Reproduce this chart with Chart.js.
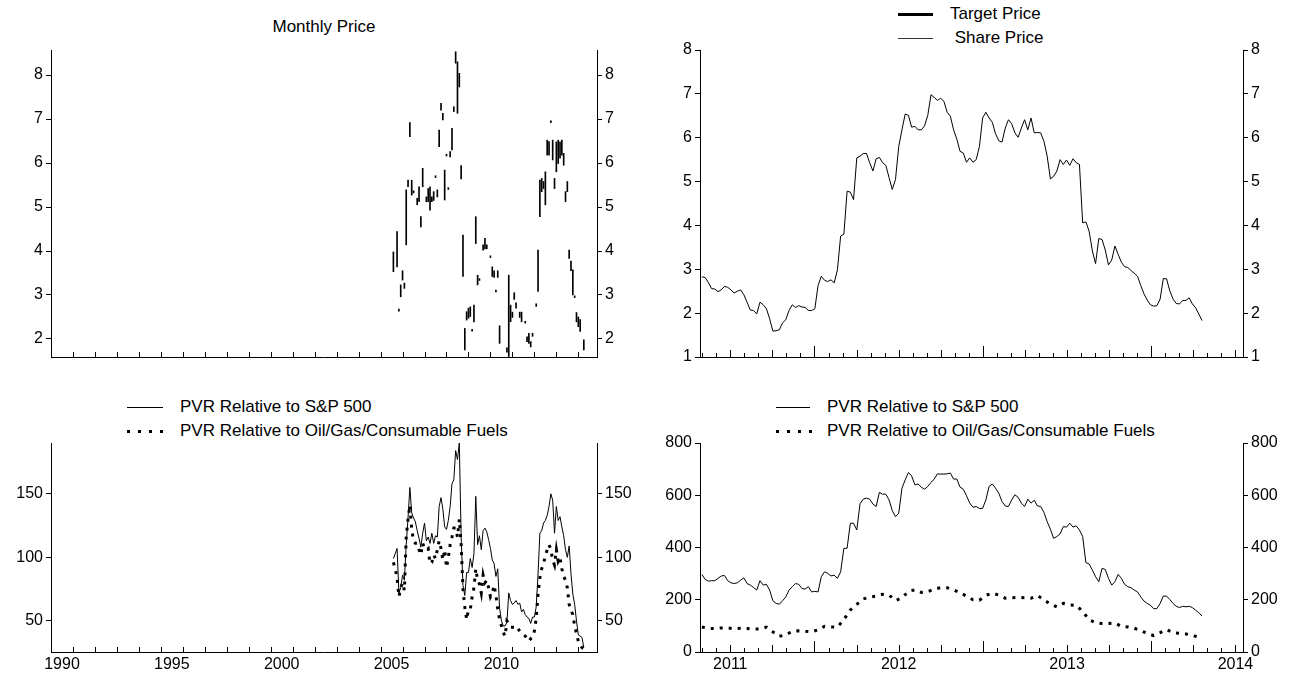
<!DOCTYPE html>
<html>
<head>
<meta charset="utf-8">
<script src="https://cdn.jsdelivr.net/npm/chart.js@4.4.0/dist/chart.umd.min.js"></script>
<style>
  html, body { margin: 0; padding: 0; background: #fff; }
  #page { position: relative; width: 1293px; height: 677px; overflow: hidden;
          font-family: "Liberation Sans", Arial, sans-serif; color: #000; }
  canvas { position: absolute; }
  .txt { position: absolute; font-size: 17px; line-height: 18px; white-space: pre; }
  .sw { position: absolute; }
  .solid { height: 1px; background: #000; }
  .thick { height: 3px; background: #000; }
  .thin { height: 1px; background: #333; }
  .dots { height: 3px; background: repeating-linear-gradient(to right, #000 0 3px, transparent 3px 11px); }
</style>
</head>
<body>
<div id="page">
  <div class="txt" style="left:51px; top:18px; width:546px; text-align:center;">Monthly Price</div>

  <div class="sw thick" style="left:898px; top:13px; width:35px;"></div>
  <div class="txt" style="left:950px; top:5px;">Target Price</div>
  <div class="sw thin" style="left:898px; top:38px; width:35px;"></div>
  <div class="txt" style="left:950px; top:29px;"> Share Price</div>

  <div class="sw solid" style="left:127px; top:407px; width:36px;"></div>
  <div class="txt" style="left:180px; top:398px;">PVR Relative to S&amp;P 500</div>
  <div class="sw dots" style="left:127px; top:430px; width:36px;"></div>
  <div class="txt" style="left:180px; top:422px;">PVR Relative to Oil/Gas/Consumable Fuels</div>

  <div class="sw solid" style="left:776px; top:407px; width:34px;"></div>
  <div class="txt" style="left:827px; top:398px;">PVR Relative to S&amp;P 500</div>
  <div class="sw dots" style="left:776px; top:430px; width:36px;"></div>
  <div class="txt" style="left:827px; top:422px;">PVR Relative to Oil/Gas/Consumable Fuels</div>

  <canvas id="cTL" width="650" height="342" style="left:0px; top:30px;"></canvas>
  <canvas id="cTR" width="643" height="342" style="left:650px; top:30px;"></canvas>
  <canvas id="cBL" width="650" height="247" style="left:0px; top:430px;"></canvas>
  <canvas id="cBR" width="643" height="247" style="left:650px; top:430px;"></canvas>
</div>

<script>
// ---- Monthly high/low price ranges; month 0 = Aug 2005 ----
const rangeMonth = [0,2,3,4,5,6,7,8,9,10,11,13,14,15,16,18,19,20,21,22,23,24,25,26,27,28,29,30,31,32,33,34,35,36,37,38,39,40,41,42,43,44,45,46,47,49,50,51,53,54,55,56,57,58,62,63,64,65,66,67,69,70,72,73,74,75,76,78,79,80,81,82,83,84,85,86,87,88,89,90,91,92,93,94,95,96,97,98,99,100,101,102,104];
const rangeLow   = [3.53,3.64,2.63,2.96,3.34,3.15,4.14,5.46,6.60,5.27,5.32,5.05,5.12,4.55,5.46,5.12,5.12,4.93,5.12,5.15,5.67,5.23,6.37,7.20,6.98,5.16,6.16,5.40,6.14,6.30,7.17,8.27,7.13,7.73,5.64,3.42,1.75,2.43,2.47,2.51,2.18,2.39,4.17,3.23,3.33,4.02,4.05,4.05,3.85,3.42,3.40,3.07,3.40,1.90,1.70,1.60,2.39,2.49,2.90,2.70,2.49,2.39,2.36,1.94,1.90,1.82,2.06,2.74,3.08,4.78,5.35,5.42,5.05,6.18,6.18,6.92,6.07,5.42,5.80,5.99,6.11,6.18,5.95,5.12,5.35,3.83,3.55,3.00,2.94,2.39,2.28,2.17,1.75];
const rangeHigh  = [3.98,4.44,2.68,3.23,3.55,3.27,5.39,5.61,6.92,5.61,5.37,5.20,5.46,4.78,5.88,5.23,5.42,5.46,5.23,5.35,5.71,5.39,6.75,7.36,7.13,5.84,6.20,5.44,6.26,6.79,7.28,8.53,8.30,8.04,5.94,4.36,2.24,2.62,2.70,2.73,2.22,2.77,4.78,3.45,3.37,4.14,4.29,4.14,3.89,3.64,3.55,3.11,3.55,2.30,1.80,3.45,2.77,2.61,3.05,2.82,2.61,2.61,2.40,2.05,2.13,1.94,2.13,2.80,4.02,5.61,5.65,5.58,5.80,6.52,6.49,6.96,6.52,5.65,6.48,6.52,6.48,6.52,6.22,5.35,5.58,4.02,3.77,3.57,2.98,2.60,2.50,2.44,1.98];

// ---- Monthly relative performance from Aug 2005 ----
const relSpMonthly = [99,103,107,72,76,86,82,110,131,155,135,131,128,121,115,108,119,127,113,116,111,119,111,117,116,140,147,138,124,122,129,140,158,161,184,177,190,116,78,70,88,88,99,92,103,148,110,117,106,121,123,120,114,107,98,95,85,91,60,50,46,46,49,72,66,63,64,66,63,64,57,59,55,53,52,48,53,53,61,87,119,121,127,129,133,140,150,145,119,140,129,132,124,117,106,100,109,87,71,63,50,39,38,37,29];
const relFuelsMonthly = [96,91,84,69,76,80,74,116,130,141,122,113,111,111,106,102,111,107,106,107,95,96,102,99,106,113,107,98,106,92,100,110,116,123,123,116,130,110,75,61,51,59,59,69,76,91,82,79,72,86,80,82,76,69,72,78,70,59,51,46,41,38,50,48,45,45,45,46,44,42,40,39,38,36,34,36,37,42,52,71,84,91,95,101,106,110,106,98,94,106,97,100,91,85,82,76,63,58,55,46,40,34,31,29,28];

// ---- Weekly series from 2 May 2011 ----
const sharePriceWeekly = [2.83,2.81,2.70,2.56,2.55,2.49,2.53,2.61,2.59,2.53,2.46,2.50,2.53,2.42,2.25,2.07,2.06,1.98,2.25,2.19,2.10,1.87,1.59,1.60,1.62,1.78,1.85,2.06,2.19,2.13,2.17,2.14,2.13,2.06,2.06,2.10,2.63,2.84,2.75,2.72,2.76,2.69,2.99,3.76,3.80,4.78,4.76,4.59,5.54,5.58,5.64,5.64,5.43,5.24,5.52,5.55,5.43,5.37,5.09,4.82,5.05,5.80,6.18,6.54,6.51,6.24,6.26,6.18,6.18,6.27,6.51,6.98,6.92,6.85,6.90,6.83,6.58,6.49,6.18,5.97,5.69,5.65,5.44,5.54,5.44,5.50,5.80,6.45,6.58,6.45,6.35,6.09,5.93,5.90,6.22,6.41,6.32,6.11,6.01,6.22,6.41,6.18,6.45,6.11,6.12,6.11,5.92,5.58,5.06,5.12,5.24,5.50,5.39,5.49,5.37,5.52,5.43,5.39,4.06,4.08,3.87,3.42,3.13,3.70,3.68,3.44,3.10,3.21,3.53,3.34,3.16,3.06,3.04,2.97,2.91,2.84,2.63,2.44,2.30,2.19,2.16,2.17,2.32,2.79,2.78,2.51,2.32,2.22,2.21,2.29,2.29,2.35,2.21,2.12,1.98,1.83];
const targetPriceWeekly = [];
const relSpWeekly = [297,278,271,273,273,282,291,293,273,265,262,265,275,284,262,256,247,237,273,256,259,237,196,186,183,196,211,237,250,262,259,243,241,250,230,232,230,288,307,301,291,294,282,307,397,397,493,493,467,567,585,589,585,566,557,611,604,604,582,541,518,531,627,659,687,674,640,643,631,623,634,649,662,682,681,681,682,685,662,662,631,623,598,570,554,557,549,550,582,634,643,627,608,576,559,557,582,602,592,570,557,585,570,581,559,557,534,499,470,435,442,452,480,478,493,478,483,467,442,342,337,314,288,269,320,316,282,256,269,297,282,259,250,246,237,230,211,195,186,179,166,166,186,214,214,201,186,175,170,175,173,175,170,160,150,138];
// every second week
const relFuelsBiweekly = [96,90,90,92,92,89,91,90,88,88,95,77,60,66,79,81,79,77,85,98,96,95,124,161,182,203,210,214,221,218,197,207,232,238,228,231,241,246,246,238,227,214,200,198,217,225,218,206,208,209,208,206,216,200,183,173,186,180,179,155,124,112,109,109,111,98,96,91,82,71,63,74,86,74,72,69,64,56];

// ---- Axis labels ----
const longYearLabels = ['1990', '1995', '2000', '2005', '2010'];
const shortYearLabels = ['2011', '2012', '2013', '2014'];

// ---- date helpers (decimal years) ----
const monthX = m => 2005 + (7 + m) / 12;
const weekX = i => 2011 + (121 + 7 * i) / 365.25;

const FONT = '"Liberation Sans", Arial, sans-serif';
Chart.defaults.font.family = FONT;
Chart.defaults.font.size = 16;
Chart.defaults.color = '#000';

// Tick marks pointing into the plot from the bottom axis
const innerTicks = {
  id: 'innerTicks',
  afterDatasetsDraw(chart, args, opts) {
    const xs = chart.scales.x, area = chart.chartArea, ctx = chart.ctx;
    ctx.save();
    ctx.strokeStyle = '#000';
    ctx.lineWidth = 1;
    for (const t of opts.marks || []) {
      const px = Math.round(xs.getPixelForValue(t.value)) + 0.5;
      ctx.beginPath();
      ctx.moveTo(px, area.bottom);
      ctx.lineTo(px, area.bottom - t.len);
      ctx.stroke();
    }
    ctx.restore();
  }
};

const longMarks = [];
for (let y = 1991; y <= 2014; y++) longMarks.push({ value: y, len: 5 });
const shortMarks = [];
for (let k = 4; k <= 42; k++) {
  const yr = 2011 + Math.floor(k / 12), mo = k % 12;
  shortMarks.push({ value: yr + mo / 12, len: mo === 0 ? 11 : (mo % 3 === 0 ? 7 : 4) });
}

function yScale(pos, min, max, step, width) {
  return {
    type: 'linear', position: pos, min: min, max: max,
    grid: { drawOnChartArea: false, drawTicks: true, tickLength: 5, color: '#000', tickColor: '#000' },
    border: { display: true, color: '#000', width: 1 },
    ticks: { stepSize: step, includeBounds: false, padding: 3, color: '#000', font: { size: 16 } },
    afterFit: s => { s.width = width; }
  };
}

function xScale(min, max, height, labels) {
  const sc = {
    type: 'linear', position: 'bottom', min: min, max: max, offset: false,
    grid: { drawOnChartArea: false, drawTicks: false, offset: false, color: '#000' },
    border: { display: true, color: '#000', width: 1 },
    ticks: { display: !!labels, autoSkip: false, maxRotation: 0, padding: 3, color: '#000',
             font: { size: 16 }, callback: v => String(Math.floor(v)) },
    afterFit: s => { s.height = height; }
  };
  if (labels) sc.afterBuildTicks = s => { s.ticks = labels.map(l => ({ value: Number(l) + 0.5 })); };
  return sc;
}

function baseOptions(scales, padTop, marks) {
  return {
    responsive: false, animation: false, devicePixelRatio: 1,
    layout: { padding: { top: padTop, left: 0, right: 0, bottom: 0 } },
    plugins: { legend: { display: false }, tooltip: { enabled: false }, innerTicks: { marks: marks } },
    scales: scales,
    elements: { point: { radius: 0 }, line: { tension: 0 } }
  };
}

const solidLine = (label, pts) => ({
  label, data: pts, borderColor: '#000', borderWidth: 1, pointRadius: 0, fill: false
});
const dottedLine = (label, pts) => ({
  label, data: pts, borderColor: '#000', borderWidth: 3, borderDash: [3, 6],
  borderCapStyle: 'butt', pointRadius: 0, fill: false
});

// Top left: monthly high-low price ranges
new Chart(document.getElementById('cTL'), {
  type: 'bar',
  data: {
    datasets: [{
      label: 'Monthly Price',
      data: rangeMonth.map((m, i) => ({ x: monthX(m), y: [rangeLow[i], rangeHigh[i]] })),
      backgroundColor: '#000', borderWidth: 0, barThickness: 1, grouped: false
    }]
  },
  options: baseOptions({
    x: xScale(1990, 2014.85, 15, null),
    y: yScale('left', 1.59, 8.57, 1, 51),
    y2: yScale('right', 1.59, 8.57, 1, 53)
  }, 20, longMarks),
  plugins: [innerTicks]
});

// Top right: weekly share price
new Chart(document.getElementById('cTR'), {
  type: 'line',
  data: {
    datasets: [
      { label: 'Target Price', data: targetPriceWeekly.map((v, i) => ({ x: weekX(i), y: v })),
        borderColor: '#000', borderWidth: 3, pointRadius: 0 },
      solidLine('Share Price', sharePriceWeekly.map((v, i) => ({ x: weekX(i), y: v })))
    ]
  },
  options: baseOptions({
    x: xScale(2011.32, 2014.545, 15, null),
    y: yScale('left', 1, 8, 1, 50),
    y2: yScale('right', 1, 8, 1, 50)
  }, 20, shortMarks),
  plugins: [innerTicks]
});

// Bottom left: monthly relative performance
new Chart(document.getElementById('cBL'), {
  type: 'line',
  data: {
    datasets: [
      solidLine('PVR Relative to S&P 500', relSpMonthly.map((v, i) => ({ x: monthX(i), y: v }))),
      dottedLine('PVR Relative to Oil/Gas/Consumable Fuels', relFuelsMonthly.map((v, i) => ({ x: monthX(i), y: v })))
    ]
  },
  options: baseOptions({
    x: xScale(1990, 2014.85, 25, longYearLabels),
    y: yScale('left', 25.5, 190, 50, 51),
    y2: yScale('right', 25.5, 190, 50, 53)
  }, 13, longMarks),
  plugins: [innerTicks]
});

// Bottom right: weekly relative performance
new Chart(document.getElementById('cBR'), {
  type: 'line',
  data: {
    datasets: [
      solidLine('PVR Relative to S&P 500', relSpWeekly.map((v, i) => ({ x: weekX(i), y: v }))),
      dottedLine('PVR Relative to Oil/Gas/Consumable Fuels', relFuelsBiweekly.map((v, i) => ({ x: weekX(2 * i), y: v })))
    ]
  },
  options: baseOptions({
    x: xScale(2011.32, 2014.545, 25, shortYearLabels),
    y: yScale('left', 0, 800, 200, 50),
    y2: yScale('right', 0, 800, 200, 50)
  }, 13, shortMarks),
  plugins: [innerTicks]
});
</script>
</body>
</html>
